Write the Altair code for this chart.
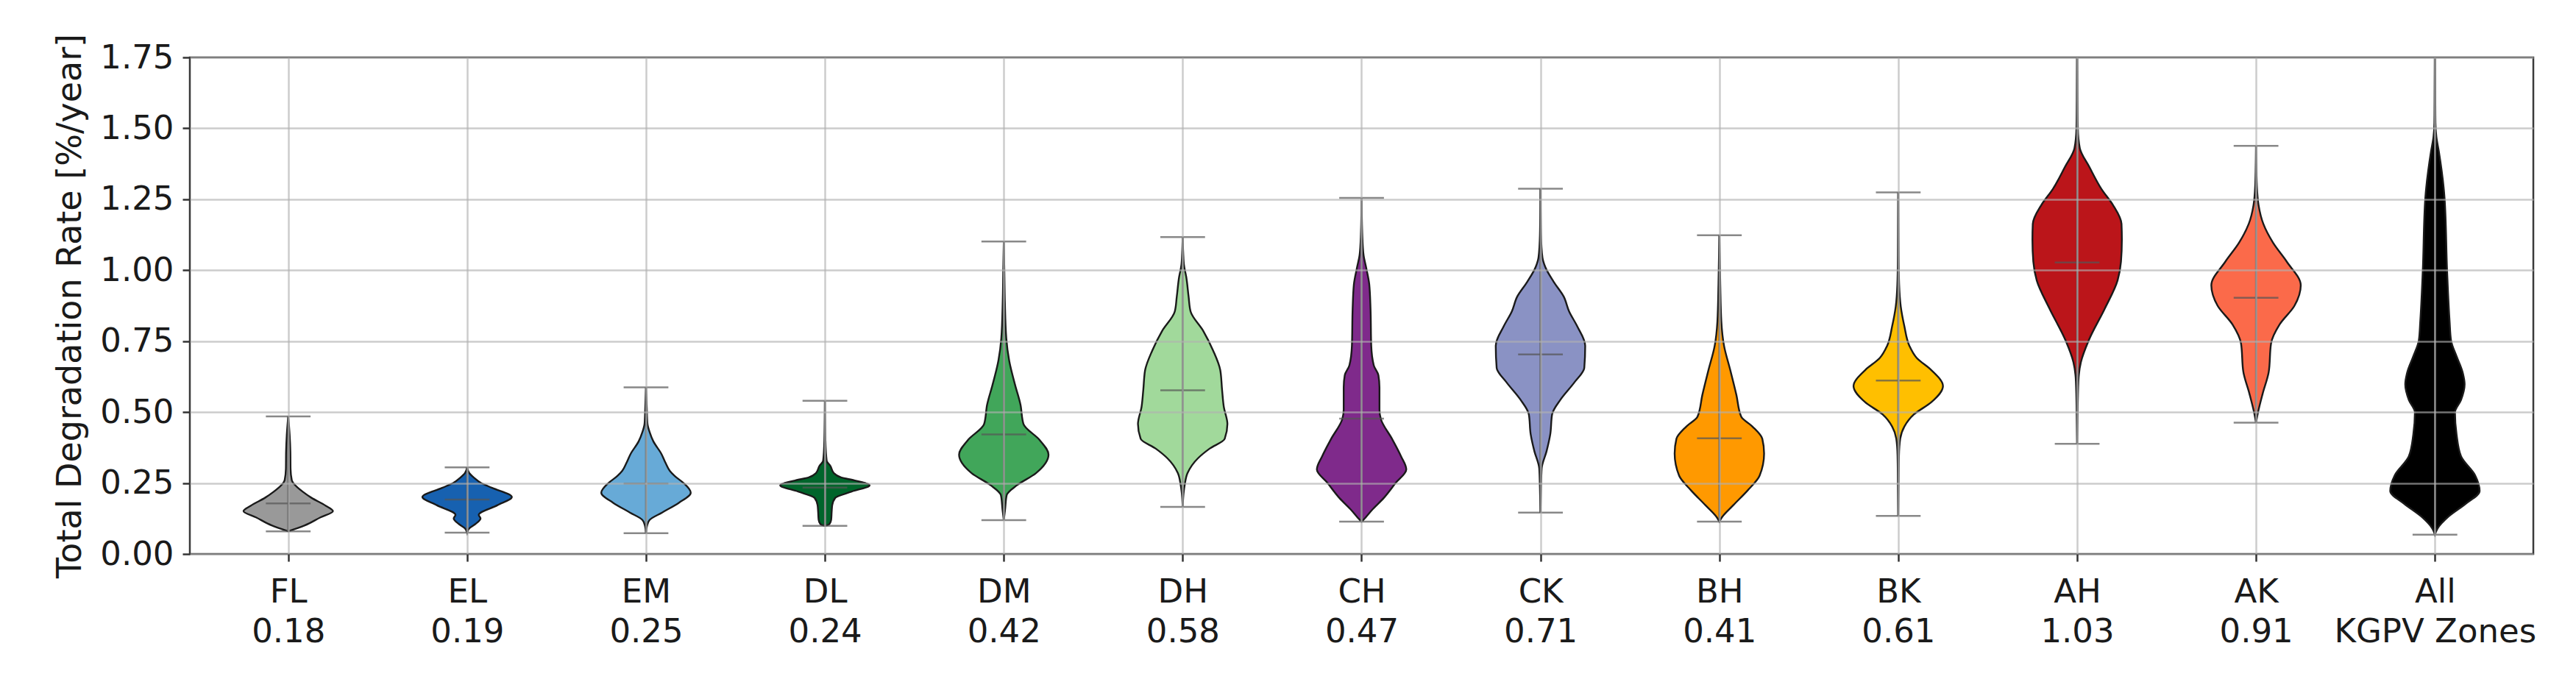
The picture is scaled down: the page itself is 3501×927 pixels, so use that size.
import json
import altair as alt
import pandas as pd

# ---------------- data ----------------
cats = ["FL", "EL", "EM", "DL", "DM", "DH", "CH", "CK", "BH", "BK", "AH", "AK", "All"]
sub_labels = ["0.18", "0.19", "0.25", "0.24", "0.42", "0.58", "0.47", "0.71",
              "0.41", "0.61", "1.03", "0.91", "KGPV Zones"]
colors = ["#999999", "#1761b0", "#67aad7", "#00652b", "#41a65a", "#a1d99b", "#7f2a8b",
          "#8a92c4", "#ff9900", "#ffbf00", "#bb151a", "#fb6a4a", "#000000"]

mins = [0.080, 0.075, 0.073, 0.099, 0.119, 0.166, 0.114, 0.146, 0.114, 0.134, 0.388, 0.463, 0.068]
maxs = [0.485, 0.305, 0.587, 0.540, 1.101, 1.117, 1.255, 1.287, 1.123, 1.274, 1.85, 1.438, 1.90]
medians = [0.178, 0.192, 0.248, 0.234, 0.421, 0.577, 0.477, 0.703, 0.408, 0.611, 1.027, 0.903, None]

# violin outlines: rate levels and half-widths (in category units)
prof_v = {
    "FL": [0.080, 0.10, 0.129, 0.151, 0.17, 0.198, 0.22, 0.245, 0.26, 0.30, 0.36, 0.42, 0.485],
    "EL": [0.075, 0.09, 0.105, 0.125, 0.138, 0.172, 0.201, 0.233, 0.250, 0.268, 0.285, 0.305],
    "EM": [0.073, 0.10, 0.12, 0.146, 0.181, 0.216, 0.25, 0.275, 0.293, 0.32, 0.354, 0.397, 0.43, 0.46, 0.52, 0.587],
    "DL": [0.099, 0.105, 0.12, 0.15, 0.172, 0.198, 0.22, 0.242, 0.259, 0.27, 0.285, 0.311, 0.328, 0.40, 0.540],
    "DM": [0.119, 0.155, 0.207, 0.242, 0.285, 0.35, 0.402, 0.458, 0.527, 0.596, 0.682, 0.76, 0.89, 1.0, 1.101],
    "DH": [0.166, 0.22, 0.242, 0.285, 0.337, 0.371, 0.406, 0.458, 0.518, 0.58, 0.648, 0.717, 0.786, 0.855,
           0.907, 0.976, 1.019, 1.06, 1.117],
    "CH": [0.114, 0.12, 0.155, 0.198, 0.25, 0.298, 0.345, 0.406, 0.475, 0.509, 0.587, 0.63, 0.665, 0.734,
           0.864, 0.95, 1.011, 1.054, 1.123, 1.255],
    "CK": [0.146, 0.232, 0.302, 0.362, 0.423, 0.492, 0.544, 0.605, 0.656, 0.734, 0.803, 0.855, 0.907, 0.959,
           1.011, 1.045, 1.124, 1.287],
    "BH": [0.114, 0.129, 0.172, 0.224, 0.276, 0.354, 0.406, 0.449, 0.484, 0.561, 0.648, 0.734, 0.82, 0.95, 1.123],
    "BK": [0.134, 0.25, 0.347, 0.406, 0.449, 0.492, 0.535, 0.592, 0.648, 0.691, 0.734, 0.803, 0.872, 0.95,
           1.05, 1.274],
    "AH": [0.388, 0.47, 0.609, 0.676, 0.753, 0.864, 0.964, 1.03, 1.108, 1.163, 1.23, 1.285, 1.363, 1.43,
           1.5, 1.6, 1.85],
    "AK": [0.463, 0.499, 0.565, 0.642, 0.742, 0.809, 0.875, 0.947, 1.03, 1.097, 1.163, 1.23, 1.307, 1.438],
    "All": [0.068, 0.089, 0.133, 0.177, 0.222, 0.277, 0.344, 0.421, 0.499, 0.543, 0.598, 0.642, 0.698,
            0.753, 0.82, 0.997, 1.252, 1.418, 1.47, 1.52, 1.6, 1.90],
}
prof_w = {
    "FL": [0.0, 0.09, 0.18, 0.25, 0.21, 0.13, 0.08, 0.035, 0.02, 0.013, 0.012, 0.008, 0.0],
    "EL": [0.0, 0.012, 0.045, 0.075, 0.065, 0.17, 0.25, 0.14, 0.078, 0.04, 0.012, 0.0],
    "EM": [0.0, 0.006, 0.02, 0.09, 0.185, 0.25, 0.21, 0.16, 0.133, 0.11, 0.085, 0.041, 0.02, 0.008, 0.004, 0.0],
    "DL": [0.0, 0.025, 0.035, 0.038, 0.041, 0.058, 0.15, 0.25, 0.167, 0.09, 0.05, 0.03, 0.01, 0.003, 0.0],
    "DM": [0.0, 0.007, 0.016, 0.073, 0.18, 0.25, 0.2, 0.11, 0.093, 0.063, 0.03, 0.014, 0.006, 0.003, 0.0],
    "DH": [0.0, 0.006, 0.011, 0.027, 0.085, 0.15, 0.235, 0.25, 0.23, 0.22, 0.21, 0.17, 0.115, 0.044,
           0.033, 0.02, 0.007, 0.003, 0.0],
    "CH": [0.0, 0.01, 0.058, 0.125, 0.19, 0.25, 0.22, 0.17, 0.108, 0.1, 0.1, 0.094, 0.068, 0.054,
           0.05, 0.043, 0.025, 0.011, 0.004, 0.0],
    "CK": [0.0, 0.003, 0.007, 0.034, 0.055, 0.065, 0.112, 0.19, 0.245, 0.25, 0.205, 0.16, 0.13, 0.074,
           0.027, 0.011, 0.003, 0.0],
    "BH": [0.0, 0.014, 0.078, 0.158, 0.225, 0.25, 0.24, 0.185, 0.122, 0.095, 0.061, 0.026, 0.011, 0.005, 0.0],
    "BK": [0.0, 0.002, 0.004, 0.011, 0.034, 0.088, 0.185, 0.25, 0.185, 0.103, 0.062, 0.034, 0.014, 0.005,
           0.002, 0.0],
    "AH": [0.0, 0.002, 0.007, 0.021, 0.065, 0.154, 0.226, 0.245, 0.25, 0.248, 0.2, 0.137, 0.069, 0.015,
           0.004, 0.002, 0.0],
    "AK": [0.0, 0.011, 0.037, 0.071, 0.084, 0.132, 0.215, 0.25, 0.172, 0.095, 0.041, 0.014, 0.004, 0.0],
    "All": [0.0, 0.014, 0.078, 0.172, 0.25, 0.225, 0.146, 0.121, 0.112, 0.146, 0.166, 0.154, 0.12,
            0.09, 0.082, 0.068, 0.054, 0.022, 0.008, 0.003, 0.002, 0.0],
}

# ---------------- tables ----------------
rows = []
for i, c in enumerate(cats):
    for v, w in zip(prof_v[c], prof_w[c]):
        rows.append({"cat": c, "pos": i + 1, "v": v, "hw": w})
df_prof = pd.DataFrame(rows)

df_stats = pd.DataFrame({"cat": cats, "pos": list(range(1, len(cats) + 1)),
                         "vmin": mins, "vmax": maxs})
df_med = pd.DataFrame({"cat": cats, "pos": list(range(1, len(cats) + 1)), "vmed": medians}).dropna()

label_list = [c + "|" + s for c, s in zip(cats, sub_labels)]
label_expr = "split(" + json.dumps(label_list) + "[datum.value - 1], '|')"

FONT = "DejaVu Sans"
FS = 45
YTITLE = "Total Degradation Rate [%/year]"

xscale = alt.Scale(domain=[0.45, 13.55], nice=False, zero=False)
yscale = alt.Scale(domain=[0, 1.75], nice=False, zero=False)

xaxis = alt.Axis(values=list(range(1, 14)), labelExpr=label_expr, title=None,
                 grid=True, gridColor="#b0b0b0", gridOpacity=0.65, gridWidth=2.5,
                 domain=False, ticks=True, tickSize=10, tickWidth=2.5, tickColor="#333333",
                 labelFont=FONT, labelFontSize=FS, labelColor="#1a1a1a", labelPadding=19,
                 labelLineHeight=54, labelBaseline="top", labelLimit=0, zindex=1)
yaxis = alt.Axis(values=[0, 0.25, 0.5, 0.75, 1.0, 1.25, 1.5, 1.75], format=".2f",
                 title=YTITLE,
                 titleFont=FONT, titleFontSize=46, titleFontWeight="normal", titleColor="#1a1a1a",
                 titlePadding=16,
                 grid=True, gridColor="#b0b0b0", gridOpacity=0.65, gridWidth=2.5,
                 domain=False, ticks=True, tickSize=10, tickWidth=2.5, tickColor="#333333",
                 labelFont=FONT, labelFontSize=FS, labelColor="#1a1a1a", labelPadding=12, zindex=1)

violins = alt.Chart(df_prof).transform_calculate(
    xl="datum.pos - datum.hw", xr="datum.pos + datum.hw"
).mark_area(orient="horizontal", interpolate="monotone", stroke="#1a1a1a",
            strokeWidth=2.4, opacity=1, clip=True).encode(
    y=alt.Y("v:Q", scale=yscale, axis=yaxis, title=YTITLE),
    x=alt.X("xl:Q", scale=xscale, axis=xaxis, stack=None, title=None),
    x2="xr:Q",
    color=alt.Color("cat:N", scale=alt.Scale(domain=cats, range=colors), legend=None),
)

LINE = "#555555"
bars = alt.Chart(df_stats).mark_rule(color=LINE, strokeWidth=2.5, opacity=0.85, clip=True).encode(
    x=alt.X("pos:Q", scale=xscale, axis=xaxis, title=None),
    y=alt.Y("vmin:Q", scale=yscale, axis=yaxis, title=YTITLE),
    y2="vmax:Q",
)

caps = alt.Chart(df_stats).transform_fold(["vmin", "vmax"], as_=["kind", "val"]).transform_calculate(
    cl="datum.pos - 0.125", cr="datum.pos + 0.125"
).mark_rule(color=LINE, strokeWidth=2.5, opacity=0.7, clip=True).encode(
    x=alt.X("cl:Q", scale=xscale, axis=xaxis, title=None),
    x2="cr:Q",
    y=alt.Y("val:Q", scale=yscale, axis=yaxis, title=YTITLE),
)

meds = alt.Chart(df_med).transform_calculate(
    cl="datum.pos - 0.125", cr="datum.pos + 0.125"
).mark_rule(color=LINE, strokeWidth=2.5, opacity=0.7, clip=True).encode(
    x=alt.X("cl:Q", scale=xscale, axis=xaxis, title=None),
    x2="cr:Q",
    y=alt.Y("vmed:Q", scale=yscale, axis=yaxis, title=YTITLE),
)

chart = alt.layer(violins, bars, caps, meds).properties(
    width=3185, height=675,
    padding={"left": 64, "top": 37, "right": 5, "bottom": 5},
    background="white",
).configure(font=FONT).configure_view(stroke="#3a3a3a", strokeWidth=2.5)

chart.save("out.html", embed_options={"renderer": "svg", "actions": False})
